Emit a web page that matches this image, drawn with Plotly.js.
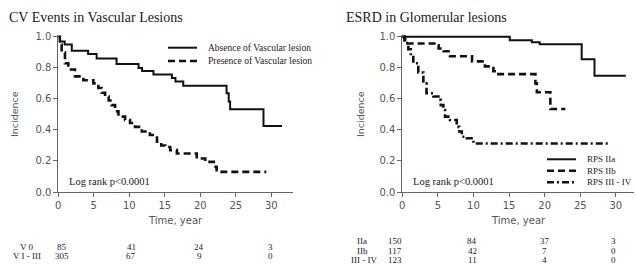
<!DOCTYPE html>
<html><head><meta charset="utf-8">
<script src="https://cdn.plot.ly/plotly-3.0.1.min.js"></script>
<style>html,body{margin:0;padding:0;background:#fff}#chart{width:636px;height:265px}</style>
</head><body><div id="chart"></div>
<script>
// ---- Left panel: CV events by vascular lesion ----
const absenceT = [0, 0.25, 0.9, 1.9, 4.2, 5.4, 8.2, 11.3, 11.8, 13.4, 16.0, 16.5, 17.6, 23.7, 24.0, 24.2, 28.9, 31.5];
const absenceS = [1.0, 0.97, 0.95, 0.91, 0.89, 0.86, 0.825, 0.80, 0.78, 0.757, 0.735, 0.713, 0.685, 0.637, 0.583, 0.533, 0.425, 0.425];
const presenceT = [0, 0.2, 0.47, 0.94, 1.41, 2.35, 3.53, 4.94, 5.64, 6.1, 6.59, 7.1, 7.53, 8.0, 8.47, 9.41, 10.1, 10.8, 11.76, 12.9, 13.9, 14.5, 15.05, 15.76, 16.7, 19.5, 20.7, 21.9, 22.3, 29.3];
const presenceS = [1.0, 0.95, 0.90, 0.83, 0.79, 0.745, 0.72, 0.70, 0.67, 0.64, 0.615, 0.59, 0.56, 0.52, 0.486, 0.464, 0.445, 0.42, 0.39, 0.367, 0.324, 0.30, 0.29, 0.27, 0.248, 0.216, 0.194, 0.162, 0.13, 0.13];

// ---- Right panel: ESRD by glomerular lesion ----
const iiaT = [0, 15.1, 18.2, 19.3, 25.2, 27.0, 31.4];
const iiaS = [1.0, 0.978, 0.965, 0.953, 0.855, 0.75, 0.75];
const iibT = [0, 0.3, 4.8, 5.1, 5.8, 6.7, 9.8, 11.6, 12.8, 13.3, 18.7, 18.9, 20.8, 22.9];
const iibS = [1.0, 0.957, 0.945, 0.925, 0.907, 0.875, 0.842, 0.81, 0.778, 0.76, 0.70, 0.643, 0.535, 0.535];
const iiiT = [0, 0.4, 0.85, 1.2, 1.55, 2.25, 2.96, 3.4, 4.37, 5.07, 5.4, 5.77, 6.0, 6.7, 7.65, 8.0, 8.36, 9.06, 10.0, 29.0];
const iiiS = [1.0, 0.96, 0.92, 0.88, 0.83, 0.77, 0.70, 0.637, 0.616, 0.594, 0.56, 0.529, 0.486, 0.464, 0.42, 0.39, 0.356, 0.346, 0.313, 0.313];

// ---- Labels & numbers at risk ----
const leftTitle = "CV Events in Vascular Lesions";
const rightTitle = "ESRD in Glomerular lesions";
const leftNames = ["Absence of Vascular lesion", "Presence of Vascular lesion"];
const rightNames = ["RPS IIa", "RPS IIb", "RPS III - IV"];
const riskTimes = [0, 10, 20, 30];
const leftRiskLabels = ["V 0", "V I - III"];
const riskV0 = [85, 41, 24, 3];
const riskV13 = [305, 67, 9, 0];
const rightRiskLabels = ["IIa", "IIb", "III - IV"];
const riskIIa = [150, 84, 37, 3];
const riskIIb = [117, 42, 7, 0];
const riskIII = [123, 11, 4, 0];
const yTicks = [0, 0.2, 0.4, 0.6, 0.8, 1.0];
const xTicks = [0, 5, 10, 15, 20, 25, 30];

// ---- geometry helpers (pixel -> paper) ----
const W = 636, H = 265, ML = 58, MR = 2, MT = 35, MB = 73;
const PW = W - ML - MR, PH = H - MT - MB;
const px = x => (x - ML) / PW;
const py = y => (H - MB - y) / PH;

const SERIF = "Liberation Serif, Times New Roman, serif";
const SANS = "DejaVu Sans, Verdana, sans-serif";
const INK = "#111";

const solid = {color: INK, width: 2, shape: "hv"};
const dashed = {color: INK, width: 2.6, shape: "hv", dash: "7px,4px"};
const dashdot = {color: INK, width: 2.6, shape: "hv", dash: "7px,3px,2px,3px"};

const traces = [
  {x: absenceT, y: absenceS, xaxis: "x", yaxis: "y", mode: "lines", line: solid, name: leftNames[0], showlegend: false},
  {x: presenceT, y: presenceS, xaxis: "x", yaxis: "y", mode: "lines", line: dashed, name: leftNames[1], showlegend: false},
  {x: iiaT, y: iiaS, xaxis: "x2", yaxis: "y2", mode: "lines", line: solid, name: rightNames[0], showlegend: false},
  {x: iibT, y: iibS, xaxis: "x2", yaxis: "y2", mode: "lines", line: dashed, name: rightNames[1], showlegend: false},
  {x: iiiT, y: iiiS, xaxis: "x2", yaxis: "y2", mode: "lines", line: dashdot, name: rightNames[2], showlegend: false}
];

function xax(domain, range) {
  return {domain: domain, range: range, showgrid: false, zeroline: false, showline: true,
    linecolor: "#666", linewidth: 1, ticks: "outside", ticklen: 4, tickcolor: "#666",
    tickvals: xTicks, tickfont: {family: SANS, size: 10, color: "#555"}, fixedrange: true};
}
function yax(anchor) {
  return {domain: [0, 1], range: [0, 1.012], anchor: anchor, showgrid: false, zeroline: false, showline: true,
    linecolor: "#666", linewidth: 1, ticks: "outside", ticklen: 4, tickcolor: "#666",
    tickvals: yTicks, tickformat: ".1f", tickfont: {family: SANS, size: 10, color: "#555"}, fixedrange: true};
}

const ann = [];
function txt(t, x, y, opts) {
  ann.push(Object.assign({text: t, x: x, y: y, xref: "paper", yref: "paper", showarrow: false,
    xanchor: "center", yanchor: "middle", borderpad: 0, font: {family: SERIF, size: 10, color: "#222"}}, opts || {}));
}
// titles
txt(leftTitle, px(8), py(17), {xanchor: "left", font: {family: SERIF, size: 14, color: "#222"}});
txt(rightTitle, px(345), py(17), {xanchor: "left", font: {family: SERIF, size: 14, color: "#222"}});
// axis titles
txt("Incidence", px(14), py(114), {textangle: -90, font: {family: SANS, size: 9.5, color: "#555"}});
txt("Incidence", px(360), py(114), {textangle: -90, font: {family: SANS, size: 9.5, color: "#555"}});
txt("Time, year", px(175.5), py(220), {font: {family: SANS, size: 10, color: "#555"}});
txt("Time, year", px(518), py(220), {font: {family: SANS, size: 10, color: "#555"}});
// log-rank
txt("Log rank p<0.0001", px(68), py(181.5), {xanchor: "left", font: {family: SERIF, size: 10.5, color: "#222"}});
txt("Log rank p<0.0001", px(412), py(181.5), {xanchor: "left", font: {family: SERIF, size: 10.5, color: "#222"}});

// numbers at risk (positioned on the time axes)
const RF = 9;
function riskRow(label, labelX, vals, xref, yPix, shifts) {
  txt(label, px(labelX), py(yPix), {font: {family: SERIF, size: RF, color: "#222"}});
  vals.forEach((v, i) => {
    ann.push({text: String(v), x: riskTimes[i], y: py(yPix), xref: xref, yref: "paper", showarrow: false,
      xanchor: "center", yanchor: "middle", xshift: shifts[i], borderpad: 0, font: {family: SERIF, size: RF, color: "#222"}});
  });
}
const lShift = [4, 2, -1, -1], rShift = [-7, -1, 0, -2];
riskRow(leftRiskLabels[0], 27, riskV0, "x", 246.5, lShift);
riskRow(leftRiskLabels[1], 27, riskV13, "x", 256, lShift);
riskRow(rightRiskLabels[0], 362, riskIIa, "x2", 241, rShift);
riskRow(rightRiskLabels[1], 362, riskIIb, "x2", 250.5, rShift);
riskRow(rightRiskLabels[2], 364, riskIII, "x2", 260, rShift);

// legends (line samples + labels)
const shapes = [];
function legItem(x0, x1, yPix, line, label, fs) {
  shapes.push({type: "line", xref: "paper", yref: "paper", x0: px(x0), x1: px(x1), y0: py(yPix), y1: py(yPix),
    line: {color: INK, width: line.width, dash: line.dash || "solid"}});
  txt(label, px(x1 + 10), py(yPix), {xanchor: "left", font: {family: SERIF, size: fs, color: "#222"}});
}
legItem(168, 197, 47.7, solid, leftNames[0], 9.5);
legItem(168, 197, 61, dashed, leftNames[1], 9.5);
legItem(547, 576, 159.3, solid, rightNames[0], 9);
legItem(547, 576, 170.7, dashed, rightNames[1], 9);
legItem(547, 576, 182.3, dashdot, rightNames[2], 9);

const layout = {
  width: W, height: H, margin: {l: ML, r: MR, t: MT, b: MB, pad: 0},
  paper_bgcolor: "#fff", plot_bgcolor: "#fff", showlegend: false,
  xaxis: xax([px(58.3), px(292.6)], [0, 33]),
  yaxis: yax("x"),
  xaxis2: xax([px(402.3), 1], [0, 32.55]),
  yaxis2: yax("x2"),
  annotations: ann, shapes: shapes
};
layout.xaxis.anchor = "y";
layout.xaxis2.anchor = "y2";

Plotly.newPlot("chart", traces, layout, {displayModeBar: false, staticPlot: true});
</script></body></html>
